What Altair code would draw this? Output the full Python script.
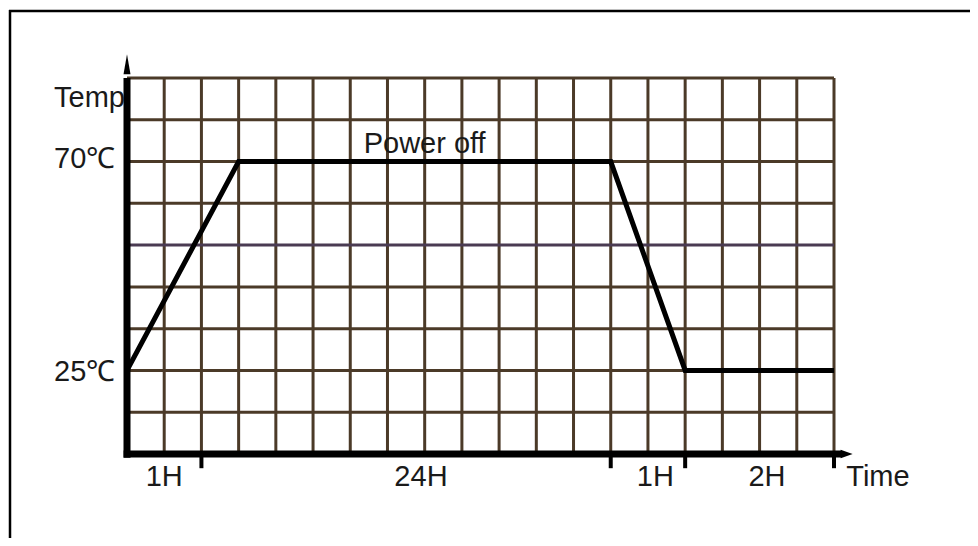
import altair as alt
import pandas as pd

# --- data (grid units: x = time columns, y = temperature rows) ---
grid_cols = list(range(1, 20))          # vertical grid lines
grid_rows = list(range(1, 10))          # horizontal grid lines
profile_time = [0, 3, 13, 15, 19]
profile_temp = [2, 7, 7, 2, 2]
tick_time = [2, 13, 15, 19]
x_labels = ["1H", "24H", "1H", "2H"]
x_label_pos = [1.0, 7.9, 14.2, 17.2]
y_labels = ["Temp", "70℃", "25℃"]
y_label_pos = [8.31, 6.84, 1.75]

GRID = "#4b3a28"
MID = "#4a3b52"
FONT = "Liberation Sans"
FS = 29

xs = alt.Scale(domain=[0, 19], range=[119, 826], nice=False, zero=False)
ys = alt.Scale(domain=[0, 9], range=[446, 70], nice=False, zero=False)


def X(f):
    return alt.X(f, type="quantitative", scale=xs, axis=None)


def Y(f):
    return alt.Y(f, type="quantitative", scale=ys, axis=None)


vgrid = pd.DataFrame({"u": grid_cols, "v0": 0, "v1": 9})
hgrid = pd.DataFrame({"v": grid_rows, "u0": 0, "u1": 19,
                      "c": [MID if r == 5 else GRID for r in grid_rows]})
prof = pd.DataFrame({"u": profile_time, "v": profile_temp, "o": range(len(profile_time))})
ticks = pd.DataFrame({"u": tick_time, "v0": 0, "v1": -0.34})
xlab = pd.DataFrame({"t": x_labels, "u": x_label_pos, "v": -0.77})
ylab = pd.DataFrame({"t": y_labels, "u": -1.96, "v": y_label_pos})
extra = pd.DataFrame({"t": ["Time"], "u": [19.33], "v": [-0.77]})
title = pd.DataFrame({"t": ["Power off"], "u": [8.0], "v": [7.2]})

vg = alt.Chart(vgrid).mark_rule(color=GRID, strokeWidth=3).encode(
    x=X("u"), y=Y("v0"), y2="v1")
hg = alt.Chart(hgrid).mark_rule(strokeWidth=3).encode(
    y=Y("v"), x=X("u0"), x2="u1", color=alt.Color("c:N", scale=None))

yaxis = alt.Chart(pd.DataFrame({"u": [0], "v0": [-0.09], "v1": [9.0]})).mark_rule(
    color="black", strokeWidth=7).encode(x=X("u"), y=Y("v0"), y2="v1")
xaxis = alt.Chart(pd.DataFrame({"v": [0], "u0": [-0.09], "u1": [19.2]})).mark_rule(
    color="black", strokeWidth=7).encode(y=Y("v"), x=X("u0"), x2="u1")
up_arrow = alt.Chart(pd.DataFrame({"u": [0], "v": [9.33]})).mark_point(
    shape="M0,-1L0.35,1L-0.35,1Z", size=400, filled=True, color="black", opacity=1).encode(
    x=X("u"), y=Y("v"))
right_arrow = alt.Chart(pd.DataFrame({"u": [19.34], "v": [0]})).mark_point(
    shape="M1,0L-1,-0.7L-1,0.7Z", size=144, filled=True, color="black", opacity=1).encode(
    x=X("u"), y=Y("v"))
tk = alt.Chart(ticks).mark_rule(color="black", strokeWidth=4).encode(
    x=X("u"), y=Y("v0"), y2="v1")

line = alt.Chart(prof).mark_line(color="black", strokeWidth=5, strokeJoin="miter").encode(
    x=X("u"), y=Y("v"), order="o:Q")

txt_kw = dict(font=FONT, fontSize=FS, color="#1a1a1a", baseline="alphabetic")
t1 = alt.Chart(xlab).mark_text(align="center", **txt_kw).encode(x=X("u"), y=Y("v"), text="t:N")
t2 = alt.Chart(ylab).mark_text(align="left", **txt_kw).encode(x=X("u"), y=Y("v"), text="t:N")
t3 = alt.Chart(extra).mark_text(align="left", **txt_kw).encode(x=X("u"), y=Y("v"), text="t:N")
t4 = alt.Chart(title).mark_text(align="center", **txt_kw).encode(x=X("u"), y=Y("v"), text="t:N")

frame_left = alt.Chart(pd.DataFrame({"k": [0]})).mark_rule(color="black", strokeWidth=2.5).encode(
    x=alt.value(2), y=alt.value(2), y2=alt.value(540))
frame_top = alt.Chart(pd.DataFrame({"k": [0]})).mark_rule(color="black", strokeWidth=2.5).encode(
    y=alt.value(3), x=alt.value(1), x2=alt.value(962))

chart = alt.layer(
    frame_left, frame_top, vg, hg, t2, line, yaxis, xaxis, up_arrow, right_arrow, tk, t1, t3, t4
).properties(
    width=962, height=530, padding=0, autosize=alt.AutoSizeParams(type="none")
).configure_view(stroke=None)

chart.save("out.html", embed_options={"renderer": "svg", "actions": False})
